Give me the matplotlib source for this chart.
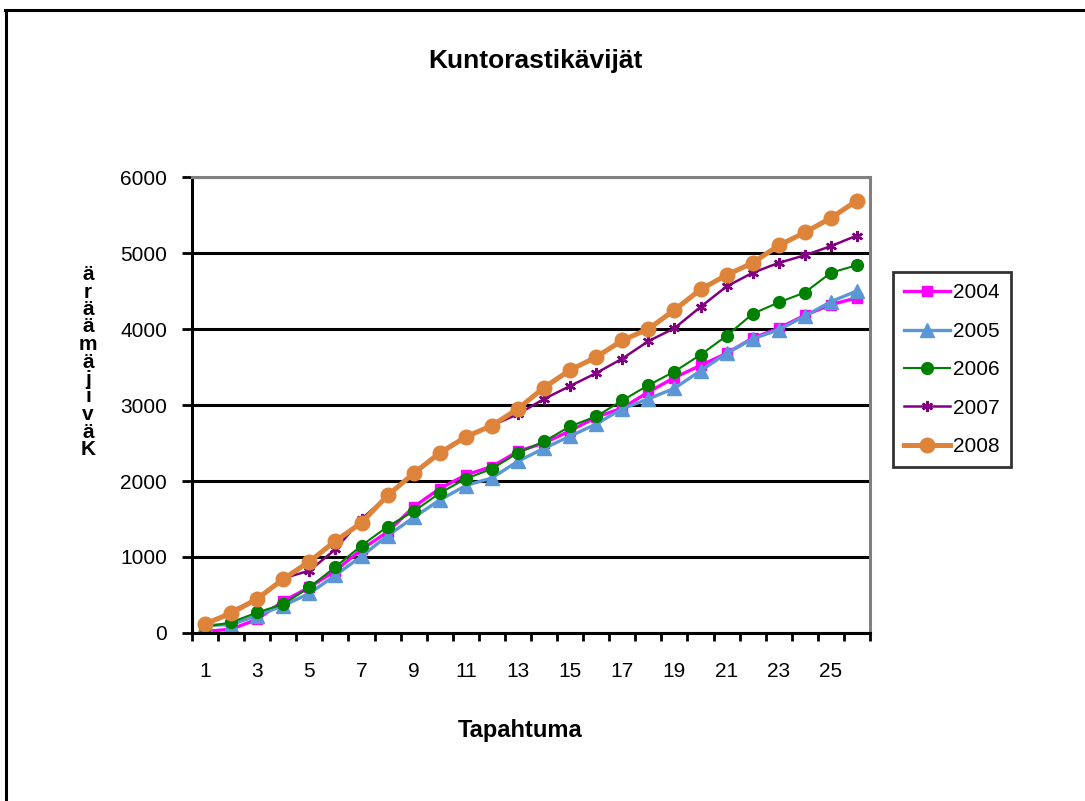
import matplotlib
matplotlib.use("Agg")
import matplotlib.pyplot as plt
from matplotlib.lines import Line2D
import numpy as np

plt.rcParams['font.family'] = ['Liberation Sans', 'DejaVu Sans']

events = list(range(1, 27))
y2004 = [20, 50, 180, 420, 600, 820, 1100, 1330, 1660, 1900, 2080, 2190, 2390, 2500, 2660, 2840, 2960, 3170, 3360, 3520, 3680, 3880, 4010, 4180, 4320, 4410]
y2005 = [100, 110, 230, 360, 520, 760, 1010, 1280, 1520, 1750, 1940, 2040, 2260, 2430, 2590, 2750, 2950, 3080, 3220, 3450, 3680, 3870, 3990, 4170, 4360, 4500]
y2006 = [80, 140, 270, 380, 600, 870, 1150, 1400, 1600, 1840, 2030, 2160, 2370, 2520, 2720, 2850, 3060, 3260, 3440, 3660, 3910, 4200, 4350, 4480, 4740, 4840]
y2007 = [100, 290, 450, 720, 820, 1100, 1500, 1800, 2100, 2350, 2570, 2730, 2880, 3080, 3250, 3420, 3610, 3840, 4010, 4290, 4560, 4740, 4870, 4970, 5090, 5230]
y2008 = [120, 260, 450, 710, 940, 1210, 1450, 1810, 2100, 2370, 2580, 2730, 2950, 3230, 3460, 3630, 3850, 4000, 4250, 4520, 4710, 4870, 5100, 5270, 5460, 5690]
years = ['2004', '2005', '2006', '2007', '2008']
yticks = [0, 1000, 2000, 3000, 4000, 5000, 6000]
xlabels_shown = [1, 3, 5, 7, 9, 11, 13, 15, 17, 19, 21, 23, 25]

W, H = 1085, 801
fig = plt.figure(figsize=(W / 100, H / 100), dpi=100)
fig.patch.set_facecolor('white')

# outer border (top and left visible)
fig.add_artist(Line2D([6 / W, 6 / W], [0, 1 - 10 / H], color='black', lw=2.2, transform=fig.transFigure))
fig.add_artist(Line2D([5 / W, 1], [1 - 10 / H, 1 - 10 / H], color='black', lw=2.2, transform=fig.transFigure))

L, R, T, B = 192, 870, 177, 633
ax = fig.add_axes([L / W, 1 - B / H, (R - L) / W, (B - T) / H])

styles = [
    dict(color='#FF00FF', marker='s', ms=7, lw=2.4),
    dict(color='#5B96D6', marker='^', ms=9.5, lw=2.4),
    dict(color='#008000', marker='o', ms=8.5, lw=1.5),
    dict(color='#800080', marker=(6, 2, 0), ms=8, lw=1.8, mew=1.7),
    dict(color='#DE843A', marker='o', ms=10.5, lw=3.6),
]
series = [y2004, y2005, y2006, y2007, y2008]
for lab, ys, st in zip(years, series, styles):
    st = dict(st)
    c = st.pop('color')
    ax.plot(events, ys, color=c, mfc=c, mec=c, label=lab, **st)

ax.set_xlim(0.5, 26.5)
ax.set_ylim(0, 6000)
ax.set_yticks(yticks)
ax.set_yticklabels([str(v) for v in yticks], fontsize=15)
ax.yaxis.grid(True, color='black', lw=2.2)
ax.set_axisbelow(True)

ax.set_xticks(np.arange(0.5, 27, 1.0))
ax.set_xticklabels([])
ax.set_xticks(xlabels_shown, minor=True)
ax.set_xticklabels([str(v) for v in xlabels_shown], minor=True, fontsize=15)
ax.tick_params(axis='x', which='major', length=6, width=2, direction='out')
ax.tick_params(axis='x', which='minor', length=0, pad=21)
ax.tick_params(axis='y', length=7, width=2, direction='out', pad=11)

for s in ['left', 'bottom']:
    ax.spines[s].set_color('black')
    ax.spines[s].set_linewidth(2.2)
for s in ['top', 'right']:
    ax.spines[s].set_color('#808080')
    ax.spines[s].set_linewidth(2.2)

fig.text(535 / W, 1 - 61 / H, 'Kuntorastikävijät', ha='center', va='center', fontsize=19, fontweight='bold')
fig.text(520 / W, 1 - 730 / H, 'Tapahtuma', ha='center', va='center', fontsize=17, fontweight='bold')
fig.text(88 / W, 1 - 362 / H, '\n'.join(list('äräämäjiväK')), ha='center', va='center',
         fontsize=15, fontweight='bold', linespacing=0.9)

leg = fig.legend(loc='upper left', bbox_to_anchor=(893 / W, 1 - 272 / H), fontsize=15,
                 frameon=True, fancybox=False, edgecolor='black', handlelength=2.2,
                 labelspacing=0.93, borderpad=0.55, handletextpad=0.15, borderaxespad=0)
leg.get_frame().set_linewidth(2)

fig.savefig('out.png', dpi=100)
